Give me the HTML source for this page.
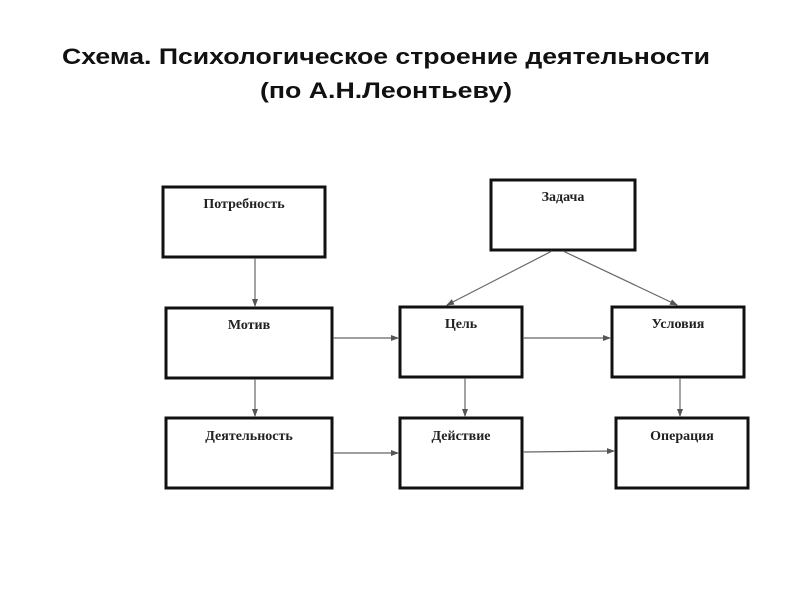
<!DOCTYPE html>
<html><head><meta charset="utf-8"><style>html,body{margin:0;padding:0;background:#fff;}svg{display:block}</style></head>
<body>
<svg width="800" height="600" viewBox="0 0 800 600" xmlns="http://www.w3.org/2000/svg">
<defs><marker id="a" markerWidth="8" markerHeight="6" refX="7" refY="3" orient="auto" markerUnits="userSpaceOnUse"><path d="M0,0 L8,3 L0,6 z" fill="#555"/></marker></defs>
<g font-family="Liberation Sans, Arial, sans-serif" font-weight="bold" font-size="22" fill="#111">
<text x="62" y="64" textLength="648" lengthAdjust="spacingAndGlyphs">Схема. Психологическое строение деятельности</text>
<text x="260" y="98" textLength="252" lengthAdjust="spacingAndGlyphs">(по А.Н.Леонтьеву)</text>
</g>
<g fill="#fff" stroke="#111" stroke-width="3">
<rect x="163" y="187" width="162" height="70"/>
<rect x="491" y="180" width="144" height="70"/>
<rect x="166" y="308" width="166" height="70"/>
<rect x="400" y="307" width="122" height="70"/>
<rect x="612" y="307" width="132" height="70"/>
<rect x="166" y="418" width="166" height="70"/>
<rect x="400" y="418" width="122" height="70"/>
<rect x="616" y="418" width="132" height="70"/>
</g>
<g stroke="#666" stroke-width="1.2" marker-end="url(#a)">
<line x1="255" y1="258" x2="255" y2="306"/>
<line x1="255" y1="379" x2="255" y2="416"/>
<line x1="333" y1="338" x2="398" y2="338"/>
<line x1="523" y1="338" x2="610" y2="338"/>
<line x1="333" y1="453" x2="398" y2="453"/>
<line x1="523" y1="452" x2="614" y2="451"/>
<line x1="465" y1="378" x2="465" y2="416"/>
<line x1="680" y1="378" x2="680" y2="416"/>
<line x1="552" y1="251" x2="447" y2="305"/>
<line x1="563" y1="251" x2="677" y2="305"/>
</g>
<g font-family="Liberation Serif, serif" font-weight="bold" font-size="14" fill="#222" text-anchor="middle">
<text x="244" y="208">Потребность</text>
<text x="563" y="201">Задача</text>
<text x="249" y="329">Мотив</text>
<text x="461" y="328">Цель</text>
<text x="678" y="328">Условия</text>
<text x="249" y="440">Деятельность</text>
<text x="461" y="440">Действие</text>
<text x="682" y="440">Операция</text>
</g>
</svg>
</body></html>
